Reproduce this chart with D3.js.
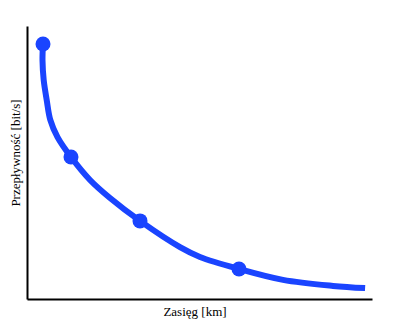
<!DOCTYPE html>
<html><head><meta charset="utf-8">
<script src="https://cdn.jsdelivr.net/npm/d3@7"></script>
<style>body{margin:0;background:#fff}svg{display:block}</style>
</head><body>
<script>
const curveX = [4.64, 4.49, 4.84, 5.71, 6.75, 8.84, 12.75, 18.26, 24.06, 32.75, 44.35, 50.14, 61.45, 74.2, 88.7, 98.0];
const curveY = [93.4, 87.5, 80.2, 72.9, 65.6, 59.3, 52.0, 43.6, 37.0, 28.6, 19.0, 15.4, 11.0, 7.0, 4.8, 4.0];
const pointX = [4.64, 12.75, 32.75, 61.45];
const pointY = [93.4, 52.0, 28.6, 11.0];
const xLabel = "Zasięg [km]";
const yLabel = "Przepływność [bit/s]";

const W = 400, H = 330;
const m = {left: 27, right: 28, top: 26, bottom: 31};
const svg = d3.select("body").append("svg").attr("width", W).attr("height", H);
const x = d3.scaleLinear().domain([0, 100]).range([m.left, W - m.right]);
const y = d3.scaleLinear().domain([0, 100]).range([H - m.bottom, m.top]);
const color = "#1a44ff";

svg.append("g").attr("transform", `translate(0,${H - m.bottom})`)
  .call(d3.axisBottom(x).ticks(0).tickSize(0)).call(g => g.select(".domain").attr("stroke", "#000").attr("stroke-width", 2));
svg.append("g").attr("transform", `translate(${m.left},0)`)
  .call(d3.axisLeft(y).ticks(0).tickSize(0)).call(g => g.select(".domain").attr("stroke", "#000").attr("stroke-width", 2));

const data = curveX.map((d, i) => [d, curveY[i]]);
svg.append("path").datum(data)
  .attr("fill", "none").attr("stroke", color).attr("stroke-width", 6)
  .attr("d", d3.line().x(d => x(d[0])).y(d => y(d[1])).curve(d3.curveCatmullRom));

svg.selectAll("circle.pt").data(pointX.map((d, i) => [d, pointY[i]])).enter()
  .append("circle").attr("class", "pt")
  .attr("cx", d => x(d[0])).attr("cy", d => y(d[1])).attr("r", 7.5).attr("fill", color);

svg.append("text").attr("x", 195).attr("y", 316)
  .attr("text-anchor", "middle").attr("font-family", "Liberation Serif, serif").attr("font-size", 13)
  .text(xLabel);
svg.append("text").attr("transform", `translate(20,153) rotate(-90)`)
  .attr("text-anchor", "middle").attr("font-family", "Liberation Serif, serif").attr("font-size", 13)
  .text(yLabel);
</script>
</body></html>
